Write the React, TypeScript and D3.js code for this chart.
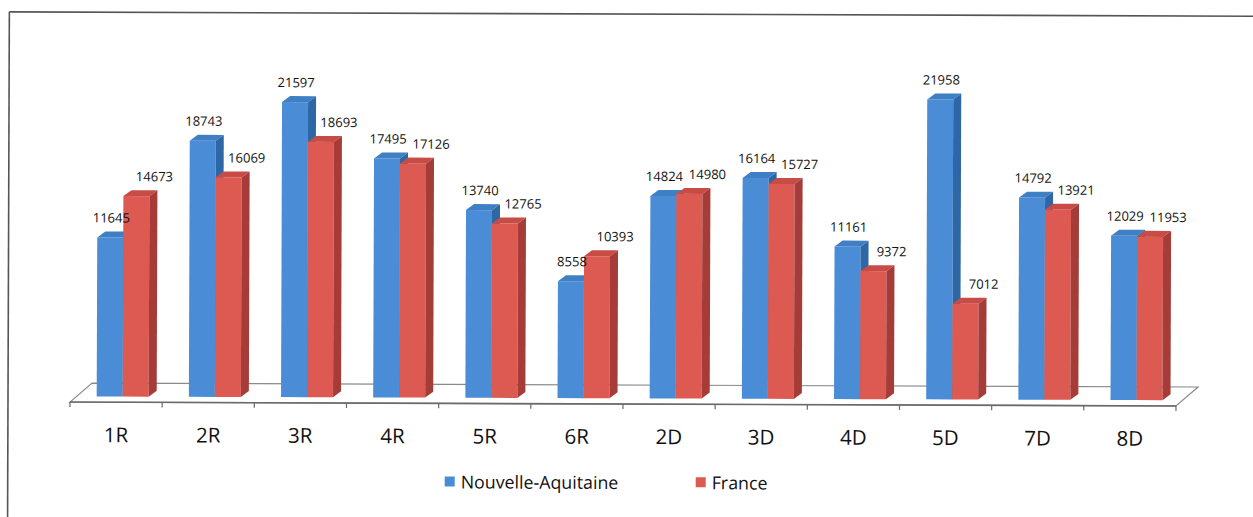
import React from "react";
import * as d3 from "d3";

const categories = ["1R", "2R", "3R", "4R", "5R", "6R", "2D", "3D", "4D", "5D", "7D", "8D"];
const nouvelleAquitaine = [11645, 18743, 21597, 17495, 13740, 8558, 14824, 16164, 11161, 21958, 14792, 12029];
const france = [14673, 16069, 18693, 17126, 12765, 10393, 14980, 15727, 9372, 7012, 13921, 11953];
const seriesNames = ["Nouvelle-Aquitaine", "France"];

const W = 1253;
const H = 517;
const FONT = "'Open Sans', 'Noto Sans', sans-serif";

const COLORS = [
  { front: "#4a8dd6", top: "#3f7fc4", side: "#2e67a6" },
  { front: "#dc5a52", top: "#c84b45", side: "#a53c37" },
];

export default function App() {
  const frontY = 404;
  const floorDx = 22;
  const floorDy = 19;
  const planeFrac = 0.3;
  const base = frontY - floorDy * planeFrac;
  const planeDx = floorDx * planeFrac;

  const x = d3.scaleBand<string>().domain(categories).range([70, 1176]).paddingInner(0).paddingOuter(0);
  const y = d3.scaleLinear().domain([0, 22000]).range([base, base - 22000 * 0.01366]);

  const bw = 26;
  const dx = 8;
  const dy = 6;
  const gapLeft = (x.bandwidth() - 2 * bw) / 2;

  const data = [nouvelleAquitaine, france];
  const labelShift = [1, 18];

  const x0 = x.range()[0];
  const x1 = x.range()[1];
  const floorPath = d3.path();
  floorPath.moveTo(x0, frontY);
  floorPath.lineTo(x1, frontY);
  floorPath.lineTo(x1 + floorDx, frontY - floorDy);
  floorPath.lineTo(x0 + floorDx, frontY - floorDy);
  floorPath.closePath();

  const tickXs = categories.map((c) => x(c) as number).concat([x1]);

  return (
    <svg width={W} height={H} style={{ position: "absolute", left: 0, top: 0, background: "#fff" }}>
      <rect x={0} y={0} width={W} height={H} fill="#fff" />
      <g transform="rotate(0.2 623 400)">
        <line x1={8} y1={14} x2={W + 10} y2={14} stroke="#555" strokeWidth={1.6} />
        <line x1={8} y1={14} x2={8} y2={H + 10} stroke="#555" strokeWidth={1.6} />

        <path d={floorPath.toString()} fill="#fff" stroke="#8a8a8a" strokeWidth={1.2} />
        <line x1={x0} y1={frontY} x2={x1} y2={frontY} stroke="#6a6a6a" strokeWidth={1.6} />
        {tickXs.map((tx, i) => (
          <line key={"t" + i} x1={tx} y1={frontY} x2={tx} y2={frontY + 5} stroke="#6a6a6a" strokeWidth={1.2} />
        ))}

        {categories.map((c, ci) => (
          <g key={c}>
            {data.map((series, si) => {
              const v = series[ci];
              const bx = (x(c) as number) + planeDx + gapLeft + si * bw;
              const top = y(v);
              const col = COLORS[si];
              const topFace = `M${bx},${top}L${bx + dx},${top - dy}L${bx + bw + dx},${top - dy}L${bx + bw},${top}Z`;
              const side = `M${bx + bw},${top}L${bx + bw + dx},${top - dy}L${bx + bw + dx},${base - dy}L${bx + bw},${base}Z`;
              return (
                <g key={si}>
                  <rect x={bx} y={top} width={bw} height={base - top} fill={col.front} />
                  <path d={topFace} fill={col.top} />
                  <path d={side} fill={col.side} />
                </g>
              );
            })}
          </g>
        ))}

        {categories.map((c, ci) =>
          data.map((series, si) => {
            const v = series[ci];
            const bx = (x(c) as number) + planeDx + gapLeft + si * bw;
            const top = y(v);
            return (
              <text
                key={c + "l" + si}
                x={bx + bw / 2 + labelShift[si]}
                y={top - 15}
                textAnchor="middle"
                fontFamily={FONT}
                fontSize={13}
                fill="#111"
              >
                {v}
              </text>
            );
          })
        )}

        {categories.map((c) => (
          <text
            key={c + "cat"}
            x={(x(c) as number) + x.bandwidth() / 2}
            y={444}
            textAnchor="middle"
            fontFamily={FONT}
            fontSize={20.5}
            fill="#111"
          >
            {c}
          </text>
        ))}

        {seriesNames.map((name, i) => {
          const lx = i === 0 ? 445 : 696;
          return (
            <g key={name}>
              <rect x={lx} y={477} width={10} height={10} fill={COLORS[i].front} />
              <text x={lx + 16} y={489} fontFamily={FONT} fontSize={17.8} fill="#111">
                {name}
              </text>
            </g>
          );
        })}
      </g>
    </svg>
  );
}
